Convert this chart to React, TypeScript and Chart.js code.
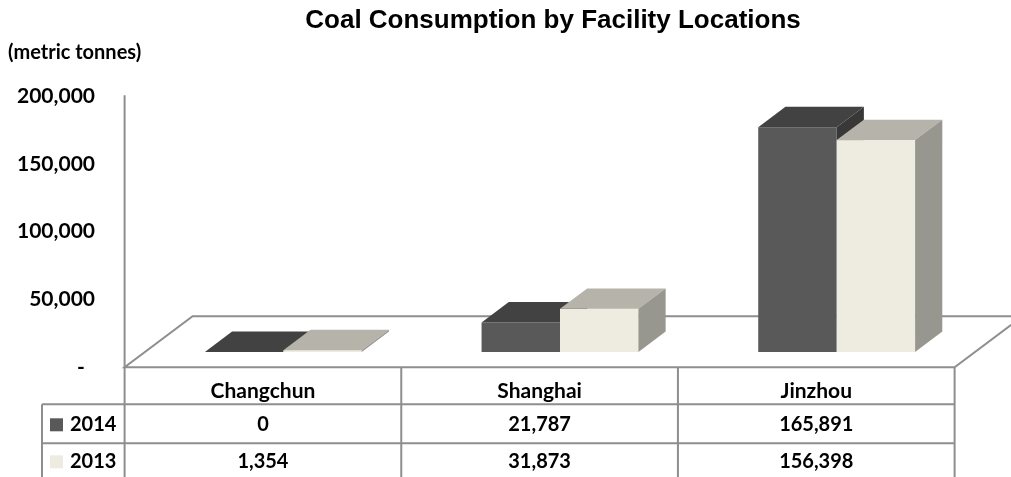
import React, { useEffect, useRef } from "react";
import { Chart, registerables } from "chart.js";

Chart.register(...registerables);

// ---- data ----
const categories = ["Changchun", "Shanghai", "Jinzhou"];
const seriesNames = ["2014", "2013"];
const values2014 = [0, 21787, 165891];
const values2013 = [1354, 31873, 156398];
const yMin = 0;
const yMax = 200000;
const yStep = 50000;
const chartTitle = "Coal Consumption by Facility Locations";
const unitLabel = "(metric tonnes)";

// ---- style ----
const FRONT = ["#595959", "#EEECE1"];
const TOP = ["#424242", "#B6B3AA"];
const SIDE = ["#383838", "#97978F"];
const LINE = "#8E8E8E";
const DEPTH = { x: 68, y: -51 };
const BAR_T0 = 0.3;
const BAR_T1 = 0.7;
const FONT = "Lato, 'Noto Sans', sans-serif";
const W = "bold";

const fmt = (v: number) => v.toLocaleString("en-US");

const threeDPlugin = {
  id: "threeD",
  beforeDatasetsDraw(chart: any) {
    const { ctx } = chart;
    const x = chart.scales.x;
    const y = chart.scales.y;
    const fx = DEPTH.x * BAR_T0;
    const fy = DEPTH.y * BAR_T0;
    const left = x.left - fx;
    const right = x.right - fx;
    const front = y.getPixelForValue(0) - fy;
    ctx.save();
    ctx.beginPath();
    ctx.moveTo(left, front);
    ctx.lineTo(right, front);
    ctx.lineTo(right + DEPTH.x, front + DEPTH.y);
    ctx.lineTo(left + DEPTH.x, front + DEPTH.y);
    ctx.closePath();
    ctx.fillStyle = "#ffffff";
    ctx.fill();
    ctx.strokeStyle = LINE;
    ctx.lineWidth = 2;
    ctx.stroke();
    ctx.restore();
  },
  afterDatasetsDraw(chart: any) {
    const { ctx } = chart;
    const bx = DEPTH.x * (BAR_T1 - BAR_T0);
    const by = DEPTH.y * (BAR_T1 - BAR_T0);
    const metas = [chart.getDatasetMeta(0), chart.getDatasetMeta(1)];
    ctx.save();
    for (let i = 0; i < categories.length; i++) {
      metas.forEach((meta: any, d: number) => {
        const el = meta.data[i];
        const { x: cx, y: top, base, width } = el.getProps(["x", "y", "base", "width"], true);
        const l = cx - width / 2;
        const r = cx + width / 2;
        if (d > 0) {
          ctx.fillStyle = FRONT[d];
          ctx.fillRect(l, top, width, base - top);
        }
        ctx.beginPath();
        ctx.moveTo(l, top);
        ctx.lineTo(r, top);
        ctx.lineTo(r + bx, top + by);
        ctx.lineTo(l + bx, top + by);
        ctx.closePath();
        ctx.fillStyle = TOP[d];
        ctx.fill();
        ctx.beginPath();
        ctx.moveTo(r, top);
        ctx.lineTo(r + bx, top + by);
        ctx.lineTo(r + bx, base + by);
        ctx.lineTo(r, base);
        ctx.closePath();
        ctx.fillStyle = SIDE[d];
        ctx.fill();
      });
    }
    ctx.restore();
  },
  afterDraw(chart: any) {
    const { ctx } = chart;
    const x = chart.scales.x;
    const y = chart.scales.y;
    const fx = DEPTH.x * BAR_T0;
    const fy = DEPTH.y * BAR_T0;
    const colLeft = x.left - fx;
    const colW = (x.right - x.left) / categories.length;
    const tableTop = y.getPixelForValue(0) - fy;
    const rowLines = [tableTop, tableTop + 37, tableTop + 76];
    const bottom = chart.height;
    const rowHeaderLeft = 42;
    const axisTop = y.getPixelForValue(yMax) - fy - 1;

    ctx.save();
    // title
    ctx.fillStyle = "#000";
    ctx.textAlign = "center";
    ctx.textBaseline = "alphabetic";
    ctx.font = "bold 26px 'Liberation Sans', Arial, sans-serif";
    ctx.fillText(chartTitle, 553, 28);
    // unit label
    ctx.textAlign = "left";
    ctx.font = `${W} 20px ${FONT}`;
    ctx.fillText(unitLabel, 8, 59);

    // axis + table lines
    ctx.strokeStyle = LINE;
    ctx.lineWidth = 2;
    ctx.beginPath();
    ctx.moveTo(colLeft, axisTop);
    ctx.lineTo(colLeft, bottom);
    for (let k = 1; k <= categories.length; k++) {
      const xx = colLeft + k * colW;
      ctx.moveTo(xx, tableTop);
      ctx.lineTo(xx, bottom);
    }
    ctx.moveTo(rowHeaderLeft, rowLines[1]);
    ctx.lineTo(rowHeaderLeft, bottom);
    for (let r = 1; r < rowLines.length; r++) {
      ctx.moveTo(rowHeaderLeft, rowLines[r]);
      ctx.lineTo(colLeft + categories.length * colW, rowLines[r]);
    }
    ctx.stroke();

    // table text
    const baselines = [tableTop + 31, rowLines[1] + 27, rowLines[2] + 25];
    ctx.fillStyle = "#000";
    ctx.font = `${W} 21px ${FONT}`;
    ctx.textAlign = "center";
    categories.forEach((c, i) => {
      ctx.fillText(c, colLeft + (i + 0.5) * colW, baselines[0]);
    });
    const rows = [values2014, values2013];
    ctx.font = `${W} 20px ${FONT}`;
    rows.forEach((vals, r) => {
      vals.forEach((v, i) => {
        ctx.fillText(fmt(v), colLeft + (i + 0.5) * colW, baselines[r + 1]);
      });
    });
    // legend keys
    ctx.textAlign = "left";
    seriesNames.forEach((name, r) => {
      ctx.fillStyle = FRONT[r];
      ctx.fillRect(50, baselines[r + 1] - 13, 13, 13);
      ctx.fillStyle = "#000";
      ctx.fillText(name, 70, baselines[r + 1]);
    });
    ctx.restore();
  },
};

export default function App() {
  const ref = useRef<HTMLCanvasElement>(null);
  useEffect(() => {
    const chart = new Chart(ref.current as HTMLCanvasElement, {
      type: "bar",
      data: {
        labels: categories,
        datasets: [
          { label: seriesNames[0], data: values2014, backgroundColor: FRONT[0], borderWidth: 0 },
          { label: seriesNames[1], data: values2013, backgroundColor: FRONT[1], borderWidth: 0 },
        ],
      },
      options: {
        responsive: false,
        animation: false,
        devicePixelRatio: 1,
        layout: { padding: { left: 0, top: 81, right: 36, bottom: 125 } },
        datasets: { bar: { categoryPercentage: 0.567, barPercentage: 1 } },
        plugins: {
          legend: { display: false },
          title: { display: false },
          tooltip: { enabled: false },
        },
        scales: {
          x: { display: false },
          y: {
            min: yMin,
            max: yMax,
            ticks: {
              stepSize: yStep,
              padding: 50,
              labelOffset: 15,
              color: "#000",
              font: { family: FONT, weight: W, size: 21 },
              callback: (v: any) => (Number(v) === 0 ? "-  " : fmt(Number(v))),
            },
            grid: { display: false, drawTicks: false },
            border: { display: false },
            afterFit: (s: any) => {
              s.width = 145;
            },
          },
        },
      } as any,
      plugins: [threeDPlugin],
    });
    return () => chart.destroy();
  }, []);
  return (
    <div style={{ position: "absolute", left: 0, top: 0, width: 1011, height: 477, background: "#fff" }}>
      <canvas ref={ref} width={1011} height={477} style={{ display: "block" }} />
    </div>
  );
}
